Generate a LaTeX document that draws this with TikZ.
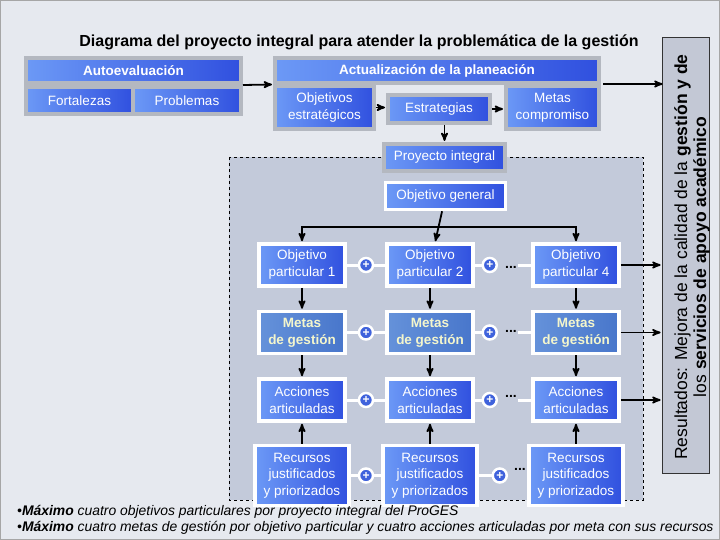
\documentclass[tikz,border=0pt]{standalone}
\usepackage{fontspec}
\setmainfont{Liberation Sans}
\usetikzlibrary{arrows,positioning,calc}

\definecolor{bgcol}{HTML}{E6E9EF}
\definecolor{frameGray}{HTML}{B4B8C0}
\definecolor{boxL}{HTML}{6C99F6}
\definecolor{boxR}{HTML}{3050DF}
\definecolor{metaL}{HTML}{6592DA}
\definecolor{metaR}{HTML}{4876CB}
\definecolor{metaText}{HTML}{F4F6CC}
\definecolor{zoneFill}{HTML}{C3CADA}
\definecolor{resFill}{HTML}{C3C8D5}
\definecolor{plusBlue}{HTML}{3F62DC}

\tikzset{
  bluebox/.style={rectangle, left color=boxL, right color=boxR, text=white,
    align=center, inner sep=0pt, font=\fontsize{13.5}{17}\selectfont},
  grayframe/.style={bluebox, draw=frameGray, line width=4pt},
  whiteframe/.style={bluebox, draw=white, line width=3.5pt},
  partbox/.style={whiteframe, minimum width=86, minimum height=42},
  metabox/.style={partbox, left color=metaL, right color=metaR, text=metaText,
    font=\fontsize{13.5}{17}\selectfont\bfseries},
  resbox/.style={whiteframe, minimum width=94, minimum height=60,
    font=\fontsize{13.5}{16.5}\selectfont},
  headbox/.style={grayframe, minimum height=25, font=\fontsize{13.5}{16}\selectfont\bfseries},
  plusnode/.style={circle, fill=plusBlue, draw=white, line width=2.5pt,
    minimum size=14, inner sep=0pt, text=white, font=\fontsize{12}{12}\selectfont\bfseries},
  dots/.style={inner sep=1pt, font=\fontsize{14}{14}\selectfont\bfseries},
  link/.style={draw=white, line width=3pt},
  flow/.style={->, >=stealth', line width=1.8pt, black, shorten >=1pt},
  note/.style={anchor=west, inner sep=0pt, font=\fontsize{13.9}{15}\selectfont\itshape}
}

\begin{document}
\begin{tikzpicture}[x=1pt,y=-1pt]
  \useasboundingbox (0,0) rectangle (720,540);
  \draw[draw=gray!70, fill=bgcol, line width=1pt] (0.5,0.5) rectangle (719.5,539.5);

  % zona del proyecto integral
  \draw[fill=zoneFill, dashed, line width=0.8pt] (229,157) rectangle (643,500);

  \node[font=\fontsize{16}{18}\selectfont\bfseries] (ttl) at (359,42)
    {Diagrama del proyecto integral para atender la problemática de la gestión};

  % autoevaluacion
  \node[headbox, minimum width=215] (autoh) at (133.5,70.5) {Autoevaluación};
  \node[grayframe, minimum width=107, minimum height=27] (fort) at (79.5,100.5) {Fortalezas};
  \node[grayframe, minimum width=108, minimum height=27] (prob) at (187,100.5) {Problemas};

  % actualizacion de la planeacion
  \node[headbox, minimum width=324] (plan) at (437,70.5) {Actualización de la planeación};
  \node[grayframe, minimum width=99, minimum height=43] (objest) at (324.5,107.5) {Objetivos\\estratégicos};
  \node[grayframe, minimum width=102, minimum height=28] (estr) at (439,109) {Estrategias};
  \node[grayframe, minimum width=93, minimum height=43] (metc) at (552.5,107.5) {Metas\\compromiso};
  \node[grayframe, minimum width=121, minimum height=27] (proy) at (444.5,157.5) {Proyecto integral};

  \node[whiteframe, minimum width=120, minimum height=27] (ogen) at (445.5,196) {Objetivo general};

  % objetivos particulares
  \node[partbox] (op1) at (302,265) {Objetivo\\particular 1};
  \node[partbox] (op2) at (430,265) {Objetivo\\particular 2};
  \node[partbox] (op4) at (576,265) {Objetivo\\particular 4};

  \node[metabox, below=22pt of op1] (mg1) {Metas\\de gestión};
  \node[metabox, below=22pt of op2] (mg2) {Metas\\de gestión};
  \node[metabox, below=22pt of op4] (mg4) {Metas\\de gestión};

  \node[partbox, below=22pt of mg1] (ac1) {Acciones\\articuladas};
  \node[partbox, below=22pt of mg2] (ac2) {Acciones\\articuladas};
  \node[partbox, below=22pt of mg4] (ac4) {Acciones\\articuladas};

  \node[resbox, below=21pt of ac1] (rc1) {Recursos\\justificados\\y priorizados};
  \node[resbox, below=21pt of ac2] (rc2) {Recursos\\justificados\\y priorizados};
  \node[resbox, below=21pt of ac4] (rc4) {Recursos\\justificados\\y priorizados};

  % resultados
  \node[rectangle, draw=black!80, fill=resFill, line width=0.8pt,
        minimum width=47, minimum height=436, inner sep=0pt] (res) at (685.5,255) {};
  \node[rotate=90, align=center, inner sep=0pt, font=\fontsize{17.5}{19}\selectfont] (restxt) at (692,257)
    {Resultados: Mejora de la calidad de la \textbf{gestión y de}\\
     los \textbf{servicios de apoyo académico}};

  % flechas de la parte superior
  \draw[flow] ($(autoh.south east)!.5!(prob.north east)$) -- ($(plan.south west)!.5!(objest.north west)$);
  \draw[flow] (objest.east) -- (objest.east -| estr.west);
  \draw[flow] (estr.east) -- (estr.east -| metc.west);
  \draw[flow] (proy.north |- estr.south) -- (proy.north);
  \draw[flow] ([xshift=2pt]metc.north east) -- ([xshift=2pt]metc.north east -| res.west);

  % objetivo general a los particulares
  \coordinate (split) at (ogen.south |- 0,227);
  \draw[flow] (ogen) -- (op2);
  \draw[flow, shorten <=-0.9pt] (split) -| (op1);
  \draw[flow, shorten <=-0.9pt] (split) -| (op4);

  \draw[flow] (op1) -- (mg1);
  \draw[flow] (op2) -- (mg2);
  \draw[flow] (op4) -- (mg4);
  \draw[flow] (mg1) -- (ac1);
  \draw[flow] (mg2) -- (ac2);
  \draw[flow] (mg4) -- (ac4);
  \draw[flow] (rc1) -- (ac1);
  \draw[flow] (rc2) -- (ac2);
  \draw[flow] (rc4) -- (ac4);

  \draw[flow] (op4.east) -- (op4.east -| res.west);
  \draw[flow] (mg4.east) -- (mg4.east -| res.west);
  \draw[flow] (ac4.east) -- (ac4.east -| res.west);

  % uniones con signo +
  \draw[link] (op1) -- node[plusnode] (p11) {+} (op2);
  \draw[link] (op2.east) -- ++(15,0) node[plusnode] (p12) {+};
  \node[dots] (d1) at (511,267) {...};
  \draw[link] (op4.west -| d1.east) -- (op4.west);

  \draw[link] (mg1) -- node[plusnode] (p21) {+} (mg2);
  \draw[link] (mg2.east) -- ++(15,0) node[plusnode] (p22) {+};
  \node[dots] (d2) at (511,331) {...};
  \draw[link] (mg4.west -| d2.east) -- (mg4.west);

  \draw[link] (ac1) -- node[plusnode] (p31) {+} (ac2);
  \draw[link] (ac2.east) -- ++(15,0) node[plusnode] (p32) {+};
  \node[dots] (d3) at (511,396) {...};
  \draw[link] (ac4.west -| d3.east) -- (ac4.west);

  \draw[link] (rc1) -- node[plusnode] (p41) {+} (rc2);
  \draw[link] (rc2.east) -- ++(21,0) node[plusnode] (p42) {+};
  \node[dots] (d4) at (520,469) {...};
  \draw[link] (rc4.west -| d4.east) -- (rc4.west);

  % notas
  \node[note] (n1) at (17,512) {•\textbf{Máximo} cuatro objetivos particulares por proyecto integral del ProGES};
  \node[note] (n2) at (17,528) {•\textbf{Máximo} cuatro metas de gestión por objetivo particular y cuatro acciones articuladas por meta con sus recursos};
\end{tikzpicture}
\end{document}
